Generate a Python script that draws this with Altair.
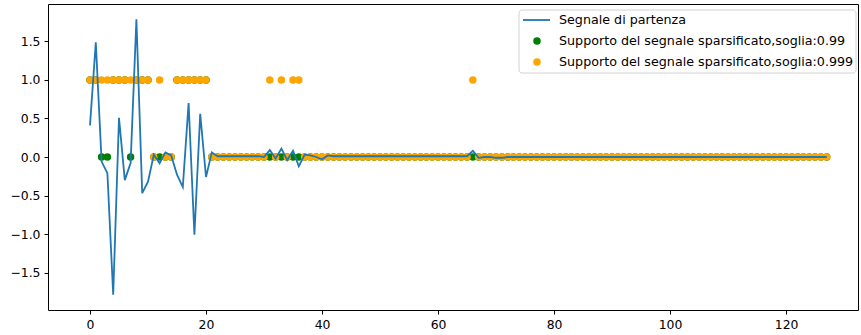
import altair as alt
import pandas as pd

# ---- data ----
signal = [
    0.41, 1.49, -0.06, -0.21, -1.79, 0.51, -0.30, -0.08, 1.79, -0.47,
    -0.32, 0.03, -0.08, 0.06, 0.02, -0.23, -0.39, 0.70, -1.01, 0.56,
    -0.26, 0.06, 0.01, 0.01, 0.01, 0.01, 0.01, 0.01, 0.01, 0.01,
    0.00, 0.09, -0.02, 0.11, -0.04, 0.08, -0.12, 0.03, 0.02, 0.00,
    -0.03, 0.02, 0.01, 0.01, 0.01, 0.01, 0.01, 0.01, 0.01, 0.01,
    0.01, 0.01, 0.01, 0.01, 0.01, 0.01, 0.01, 0.01, 0.01, 0.01,
    0.01, 0.01, 0.01, 0.01, 0.01, 0.01, 0.08, -0.01, 0.00, 0.00,
    -0.01, -0.01, 0.00, 0.00, 0.00, 0.00, 0.00, 0.00, 0.00, 0.00,
    0.00, 0.00, 0.00, 0.00, 0.00, 0.00, 0.00, 0.00, 0.00, 0.00,
    0.00, 0.00, 0.00, 0.00, 0.00, 0.00, 0.00, 0.00, 0.00, 0.00,
    0.00, 0.00, 0.00, 0.00, 0.00, 0.00, 0.00, 0.00, 0.00, 0.00,
    0.00, 0.00, 0.00, 0.00, 0.00, 0.00, 0.00, 0.00, 0.00, 0.00,
    0.00, 0.00, 0.00, 0.00, 0.00, 0.00, 0.00, 0.00,
]
support_099 = [0, 1, 4, 5, 6, 8, 9, 10, 15, 16, 17, 18, 19, 20]
support_0999 = [0, 1, 2, 3, 4, 5, 6, 7, 8, 9, 10, 12, 15, 16, 17, 18, 19, 20,
                31, 33, 35, 36, 66]
x_ticks = [0, 20, 40, 60, 80, 100, 120]
y_ticks = [-1.5, -1.0, -0.5, 0.0, 0.5, 1.0, 1.5]
legend_labels = [
    "Segnale di partenza",
    "Supporto del segnale sparsificato,soglia:0.99",
    "Supporto del segnale sparsificato,soglia:0.999",
]

n = len(signal)
df = pd.DataFrame({
    "n": list(range(n)),
    "signal": signal,
    "s099": [1 if i in support_099 else 0 for i in range(n)],
    "s0999": [1 if i in support_0999 else 0 for i in range(n)],
})

FONT = "DejaVu Sans"
W, H = 810, 306
DOT = 56

xs = alt.Scale(domain=[-7.24, 132.4], nice=False, zero=False)
ys = alt.Scale(domain=[-1.987, 1.987], nice=False, zero=False)
xax = alt.Axis(values=x_ticks, format="d", grid=False, domain=False,
               tickColor="black", tickSize=4, labelPadding=4,
               labelFont=FONT, labelFontSize=12.4, labelColor="black", title=None)
yax = alt.Axis(values=y_ticks, format=".1f", grid=False, domain=False,
               tickColor="black", tickSize=4, labelPadding=4,
               labelFont=FONT, labelFontSize=12.4, labelColor="black", title=None)

base = alt.Chart(df)
green = base.mark_circle(size=DOT, color="green", opacity=1).encode(
    x=alt.X("n:Q", scale=xs, axis=xax), y=alt.Y("s099:Q", scale=ys, axis=yax))
orange = base.mark_circle(size=DOT, color="orange", opacity=1).encode(
    x=alt.X("n:Q", scale=xs), y=alt.Y("s0999:Q", scale=ys))
line = base.mark_line(color="#1f77b4", strokeWidth=1.8).encode(
    x=alt.X("n:Q", scale=xs), y=alt.Y("signal:Q", scale=ys))

one = pd.DataFrame({"k": [0]})
lx0, lx1, ly0, ly1 = 471, 808, 6, 69  # legend box within plot coords
box = alt.Chart(one).mark_rect(fill="white", stroke="#cccccc", strokeWidth=1,
                               cornerRadius=3, opacity=0.85).encode(
    x=alt.value(lx0), x2=alt.value(lx1), y=alt.value(ly0), y2=alt.value(ly1))
leg_line = alt.Chart(one).mark_rule(color="#1f77b4", strokeWidth=1.8).encode(
    x=alt.value(lx0 + 4), x2=alt.value(lx0 + 31), y=alt.value(ly0 + 10))
leg_g = alt.Chart(one).mark_circle(size=DOT, color="green", opacity=1).encode(
    x=alt.value(lx0 + 18), y=alt.value(ly0 + 31))
leg_o = alt.Chart(one).mark_circle(size=DOT, color="orange", opacity=1).encode(
    x=alt.value(lx0 + 18), y=alt.value(ly0 + 52))
texts = [
    alt.Chart(one).mark_text(font=FONT, fontSize=12.7, color="black", align="left",
                             baseline="middle").encode(
        x=alt.value(lx0 + 40), y=alt.value(ly0 + dy), text=alt.value(lab))
    for lab, dy in zip(legend_labels, [10, 31, 52])
]

chart = alt.layer(green, orange, line, box, leg_line, leg_g, leg_o, *texts).properties(
    width=W, height=H,
    autosize=alt.AutoSizeParams(type="none"),
    padding={"left": 48, "top": 4, "right": 3, "bottom": 25},
    background="white",
).configure_view(stroke="black", strokeWidth=1)

chart.save("out.html", embed_options={"renderer": "svg", "actions": False})
